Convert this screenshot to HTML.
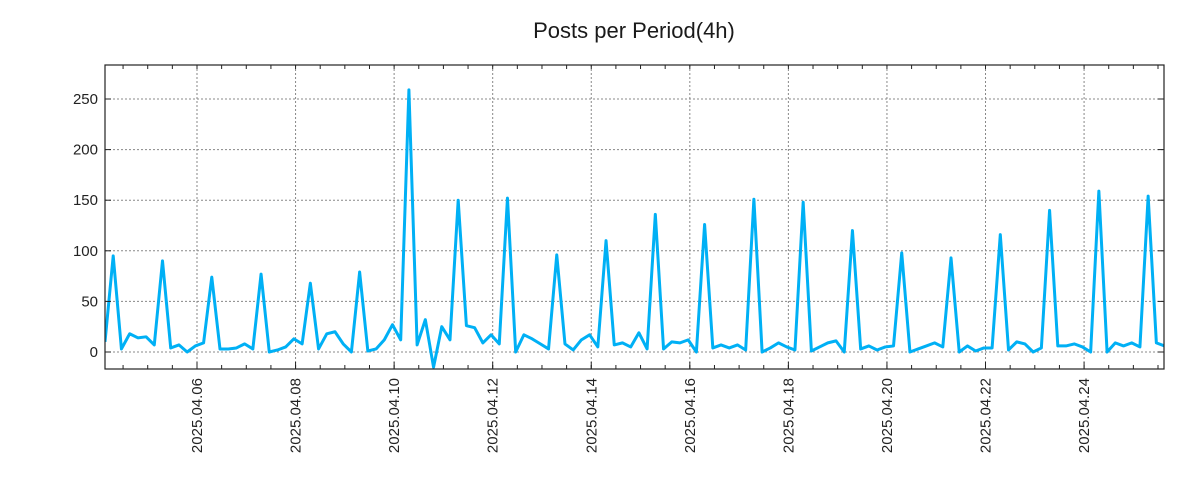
<!DOCTYPE html>
<html><head><meta charset="utf-8"><style>
body{margin:0;background:#fff;}
svg{display:block;font-family:"Liberation Sans","DejaVu Sans",sans-serif;}
</style></head><body>
<svg id="chart" width="1200" height="500">
<text x="634" y="38" text-anchor="middle" font-size="22" fill="#1a1a1a">Posts per Period(4h)</text>
<g id="grid"></g>
<g id="series"></g>
<rect x="105" y="65" width="1059" height="304" fill="none" stroke="#222" stroke-width="1.2"/>
<g id="axes"></g>
</svg>
<script>
const values = [10,95,3,18,14,15, 7,90,4,7,0,6, 9,74,3,3,4,8, 3,77,0,2,5,13, 8,68,3,18,20,8,
0,79,1,3,12,27, 12,259,7,32,-15,25, 12,150,26,24,9,17, 8,152,0,17,13,8, 3,96,8,2,12,17,
5,110,7,9,5,19, 3,136,3,10,9,12, 0,126,4,7,4,7, 2,151,0,4,9,5, 2,148,1,5,9,11,
0,120,3,6,2,5, 6,98,0,3,6,9, 5,93,0,6,1,4, 4,116,2,10,8,0, 4,140,6,6,8,5,
0,159,0,9,6,9, 5,154,9,6];
const yTicks = [0,50,100,150,200,250];
const xTickLabels = ["2025.04.06","2025.04.08","2025.04.10","2025.04.12","2025.04.14","2025.04.16","2025.04.18","2025.04.20","2025.04.22","2025.04.24"];
const startHour = 3.2; // hours after 2025.04.04 00:00 of first point
const stepHours = 4;

const L=105,R=1164,T=65,B=369;
const xMin=startHour, xMax=startHour+128.93*stepHours;
const yMin=-16.8, yMax=283.6;
const xs=h=>L+(h-xMin)/(xMax-xMin)*(R-L);
const ys=v=>B-(v-yMin)/(yMax-yMin)*(B-T);
const NS="http://www.w3.org/2000/svg";
function mk(tag,attrs,parent){const e=document.createElementNS(NS,tag);for(const k in attrs)e.setAttribute(k,attrs[k]);parent.appendChild(e);return e;}
const grid=document.getElementById('grid'),axes=document.getElementById('axes'),series=document.getElementById('series');

yTicks.forEach(v=>{
  const y=ys(v);
  const g=mk('line',{x1:L,x2:R,y1:y,y2:y,stroke:'#888','stroke-width':1,'stroke-dasharray':'2,2'},grid);
  
  
  mk('line',{x1:L,x2:L+6,y1:y,y2:y,stroke:'#222'},axes);
  mk('line',{x1:R,x2:R-6,y1:y,y2:y,stroke:'#222'},axes);
  const t=mk('text',{x:L-7,y:y+5,'text-anchor':'end','font-size':15,fill:'#222'},axes);
  t.textContent=v;
  
  
});
// minor ticks every 12h
for(let h=12;h<xMax;h+=12){
  if(h<xMin)continue;
  const x=xs(h);
  mk('line',{x1:x,x2:x,y1:B,y2:B-4,stroke:'#222'},axes);
  mk('line',{x1:x,x2:x,y1:T,y2:T+4,stroke:'#222'},axes);
}
xTickLabels.forEach((lab,i)=>{
  const h=48+i*48;
  const x=xs(h);
  const g=mk('line',{x1:x,x2:x,y1:T,y2:B,stroke:'#888','stroke-width':1,'stroke-dasharray':'2,2'},grid);
  
  
  mk('line',{x1:x,x2:x,y1:B,y2:B-7,stroke:'#222'},axes);
  const t=mk('text',{x:0,y:0,'text-anchor':'end','font-size':15,fill:'#222',transform:`translate(${x+5},${B+9}) rotate(-90)`},axes);
  t.textContent=lab;
  
  
});
const pts=values.map((v,i)=>xs(startHour+i*stepHours).toFixed(2)+','+ys(v).toFixed(2)).join(' ');
mk('clipPath',{id:'clip'},series);
mk('rect',{x:L,y:T,width:R-L,height:B-T},document.getElementById('clip'));
const line=mk('polyline',{points:pts,fill:'none',stroke:'#00b0f5','stroke-width':3,'stroke-linejoin':'round','clip-path':'url(#clip)'},series);


</script>
</body></html>
